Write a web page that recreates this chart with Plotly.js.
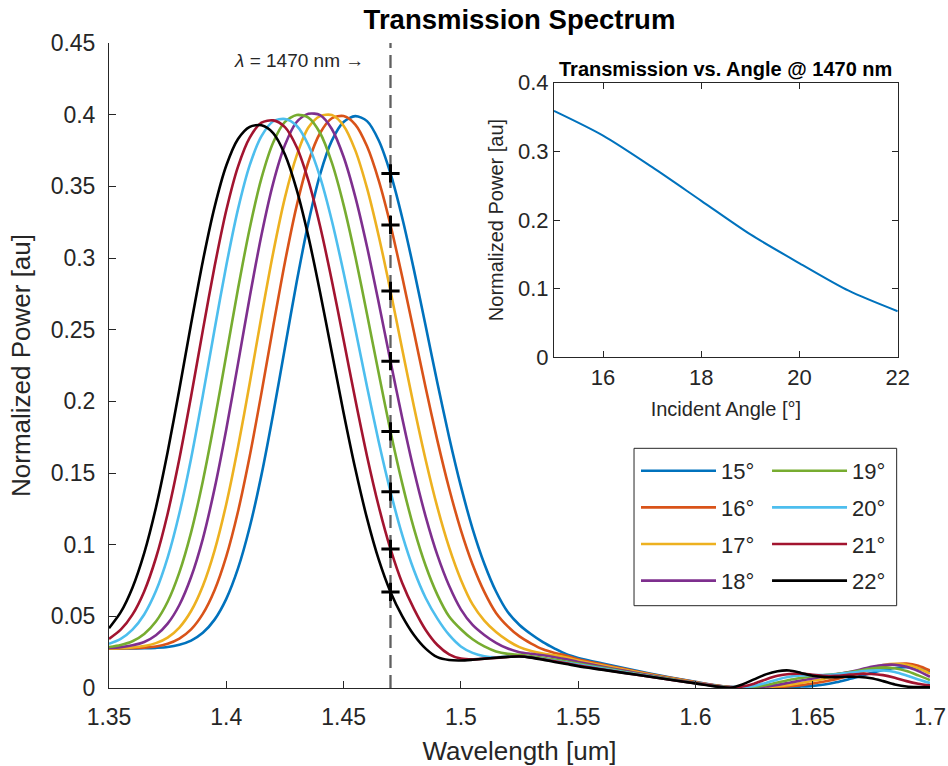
<!DOCTYPE html>
<html>
<head>
<meta charset="utf-8">
<script src="https://cdn.plot.ly/plotly-3.0.1.min.js"></script>
<style>html,body{margin:0;padding:0;background:#fff}#chart{width:948px;height:766px}</style>
</head>
<body>
<div id="chart"></div>
<script>
// ---- data ----
const wavelength = [1.350,1.355,1.360,1.365,1.370,1.375,1.380,1.385,1.390,1.395,1.400,1.405,1.410,1.415,1.420,1.425,1.430,1.435,1.440,1.445,1.450,1.455,1.460,1.465,1.470,1.475,1.480,1.485,1.490,1.495,1.500,1.505,1.510,1.515,1.520,1.525,1.530,1.535,1.540,1.545,1.550,1.560,1.570,1.580,1.590,1.600,1.610,1.615,1.620,1.625,1.630,1.635,1.640,1.645,1.650,1.655,1.660,1.665,1.670,1.675,1.680,1.685,1.690,1.695,1.700];

const p15 = [0.0275,0.0275,0.0276,0.0277,0.0280,0.0286,0.0302,0.0331,0.0385,0.0477,0.0622,0.0834,0.1123,0.1487,0.1914,0.2374,0.2832,0.3247,0.3584,0.3819,0.3949,0.3990,0.3955,0.3820,0.3590,0.3281,0.2917,0.2525,0.2128,0.1750,0.1408,0.1111,0.0867,0.0673,0.0530,0.0440,0.0375,0.0320,0.0275,0.0235,0.0210,0.0172,0.0137,0.0103,0.0072,0.0043,0.0016,0.0008,0.0005,0.0005,0.0005,0.0005,0.0006,0.0010,0.0015,0.0025,0.0040,0.0060,0.0082,0.0105,0.0125,0.0140,0.0145,0.0135,0.0115];
const p16 = [0.0275,0.0276,0.0278,0.0282,0.0290,0.0309,0.0345,0.0409,0.0517,0.0682,0.0918,0.1231,0.1618,0.2059,0.2523,0.2971,0.3364,0.3670,0.3872,0.3975,0.3990,0.3931,0.3779,0.3540,0.3230,0.2869,0.2483,0.2095,0.1726,0.1392,0.1102,0.0862,0.0671,0.0524,0.0430,0.0360,0.0310,0.0270,0.0245,0.0225,0.0200,0.0165,0.0132,0.0099,0.0069,0.0041,0.0015,0.0006,0.0002,0.0002,0.0003,0.0006,0.0012,0.0020,0.0032,0.0046,0.0062,0.0082,0.0105,0.0130,0.0152,0.0166,0.0170,0.0155,0.0122];
const p17 = [0.0276,0.0278,0.0283,0.0293,0.0313,0.0352,0.0422,0.0537,0.0712,0.0959,0.1284,0.1681,0.2128,0.2594,0.3037,0.3421,0.3714,0.3910,0.3990,0.3997,0.3923,0.3751,0.3487,0.3152,0.2770,0.2363,0.1964,0.1591,0.1260,0.0981,0.0756,0.0583,0.0470,0.0390,0.0330,0.0285,0.0258,0.0240,0.0228,0.0212,0.0192,0.0158,0.0127,0.0095,0.0066,0.0039,0.0014,0.0005,0.0002,0.0003,0.0006,0.0012,0.0022,0.0035,0.0050,0.0065,0.0082,0.0098,0.0118,0.0142,0.0160,0.0168,0.0162,0.0138,0.0100];
const p18 = [0.0279,0.0285,0.0298,0.0321,0.0368,0.0449,0.0579,0.0774,0.1041,0.1391,0.1806,0.2263,0.2728,0.3161,0.3523,0.3788,0.3949,0.4006,0.3997,0.3900,0.3706,0.3426,0.3078,0.2686,0.2280,0.1884,0.1517,0.1196,0.0927,0.0713,0.0549,0.0440,0.0370,0.0315,0.0275,0.0250,0.0238,0.0228,0.0215,0.0200,0.0182,0.0150,0.0120,0.0090,0.0062,0.0037,0.0013,0.0005,0.0002,0.0004,0.0010,0.0022,0.0037,0.0052,0.0067,0.0080,0.0095,0.0110,0.0128,0.0148,0.0160,0.0162,0.0148,0.0118,0.0078];
const p19 = [0.0286,0.0300,0.0326,0.0377,0.0464,0.0602,0.0807,0.1086,0.1443,0.1864,0.2323,0.2785,0.3208,0.3557,0.3806,0.3950,0.3998,0.3980,0.3872,0.3665,0.3371,0.3010,0.2608,0.2194,0.1790,0.1428,0.1112,0.0853,0.0650,0.0499,0.0410,0.0340,0.0290,0.0255,0.0238,0.0232,0.0222,0.0210,0.0198,0.0185,0.0170,0.0143,0.0114,0.0086,0.0060,0.0035,0.0012,0.0004,0.0003,0.0008,0.0020,0.0038,0.0056,0.0070,0.0082,0.0090,0.0098,0.0108,0.0122,0.0135,0.0142,0.0138,0.0118,0.0088,0.0055];
const p20 = [0.0308,0.0343,0.0407,0.0513,0.0676,0.0909,0.1219,0.1602,0.2040,0.2501,0.2948,0.3341,0.3648,0.3850,0.3954,0.3970,0.3923,0.3788,0.3564,0.3260,0.2899,0.2505,0.2102,0.1717,0.1370,0.1068,0.0821,0.0628,0.0484,0.0370,0.0290,0.0245,0.0222,0.0215,0.0218,0.0222,0.0215,0.0203,0.0190,0.0177,0.0163,0.0137,0.0110,0.0083,0.0058,0.0034,0.0011,0.0003,0.0005,0.0015,0.0035,0.0060,0.0078,0.0088,0.0090,0.0090,0.0095,0.0105,0.0115,0.0122,0.0122,0.0112,0.0088,0.0060,0.0035];
const p21 = [0.0343,0.0407,0.0512,0.0674,0.0907,0.1216,0.1599,0.2035,0.2495,0.2940,0.3333,0.3638,0.3840,0.3944,0.3960,0.3913,0.3774,0.3539,0.3221,0.2842,0.2429,0.2012,0.1617,0.1266,0.0970,0.0732,0.0552,0.0405,0.0300,0.0235,0.0205,0.0200,0.0205,0.0210,0.0216,0.0221,0.0213,0.0200,0.0186,0.0172,0.0157,0.0131,0.0105,0.0080,0.0056,0.0033,0.0010,0.0003,0.0010,0.0030,0.0060,0.0085,0.0098,0.0100,0.0092,0.0085,0.0085,0.0092,0.0098,0.0098,0.0090,0.0072,0.0048,0.0030,0.0018];
const p22 = [0.0417,0.0529,0.0700,0.0941,0.1258,0.1646,0.2084,0.2541,0.2978,0.3355,0.3645,0.3830,0.3915,0.3926,0.3872,0.3722,0.3477,0.3149,0.2760,0.2341,0.1921,0.1529,0.1183,0.0895,0.0670,0.0502,0.0370,0.0275,0.0215,0.0195,0.0192,0.0197,0.0204,0.0211,0.0217,0.0220,0.0212,0.0198,0.0182,0.0168,0.0152,0.0128,0.0104,0.0080,0.0056,0.0032,0.0008,0.0002,0.0025,0.0060,0.0095,0.0117,0.0122,0.0105,0.0085,0.0076,0.0076,0.0078,0.0077,0.0068,0.0048,0.0025,0.0010,0.0006,0.0005];

const angles = [15, 16, 17, 18, 19, 20, 21, 22];
const angleLabels = ['15°', '16°', '17°', '18°', '19°', '20°', '21°', '22°'];
const powerAt1470 = [0.359, 0.323, 0.277, 0.228, 0.179, 0.137, 0.097, 0.067];
const lambda0 = 1.47;

const xTickVals = [1.35, 1.4, 1.45, 1.5, 1.55, 1.6, 1.65, 1.7];
const xTickText = ['1.35', '1.4', '1.45', '1.5', '1.55', '1.6', '1.65', '1.7'];
const yTickVals = [0, 0.05, 0.1, 0.15, 0.2, 0.25, 0.3, 0.35, 0.4, 0.45];
const yTickText = ['0', '0.05', '0.1', '0.15', '0.2', '0.25', '0.3', '0.35', '0.4', '0.45'];
const x2TickVals = [16, 18, 20, 22];
const y2TickVals = [0, 0.1, 0.2, 0.3, 0.4];
const y2TickText = ['0', '0.1', '0.2', '0.3', '0.4'];

// ---- styling ----
const series = [p15, p16, p17, p18, p19, p20, p21, p22];
const colors = ['#0072BD', '#D95319', '#EDB120', '#7E2F8E', '#77AC30', '#4DBEEE', '#A2142F', '#000000'];
const FONT = 'Liberation Sans, Arial, Helvetica, sans-serif';
const INK = '#262626';

const traces = [];
series.forEach((s, i) => {
  traces.push({
    x: wavelength, y: s, type: 'scatter', mode: 'lines',
    name: angleLabels[i], legendgroup: 'g' + i,
    legend: i < 4 ? 'legend' : 'legend2',
    line: {color: colors[i], width: 2.6, shape: 'spline', smoothing: 0.8},
    hoverinfo: 'skip'
  });
});
traces.push({
  x: [lambda0, lambda0], y: [0, yTickVals[yTickVals.length - 1]],
  type: 'scatter', mode: 'lines', showlegend: false,
  line: {color: '#5f5f5f', width: 2.3, dash: '13px,7px'}, hoverinfo: 'skip'
});
traces.push({
  x: angles.map(() => lambda0), y: powerAt1470,
  type: 'scatter', mode: 'markers', showlegend: false,
  marker: {symbol: 'cross-thin', size: 13, color: '#000', line: {color: '#000', width: 3}},
  hoverinfo: 'skip'
});
traces.push({
  x: angles, y: powerAt1470, xaxis: 'x2', yaxis: 'y2',
  type: 'scatter', mode: 'lines', showlegend: false,
  line: {color: '#0072BD', width: 2, shape: 'spline', smoothing: 0.8}, hoverinfo: 'skip'
});

const axisCommon = {
  showline: true, linecolor: INK, linewidth: 1, ticks: 'inside', tickcolor: INK,
  tickwidth: 1, showgrid: false, zeroline: false, fixedrange: true,
  tickfont: {family: FONT, size: 23, color: INK}
};

const legendCommon = {
  orientation: 'v', yanchor: 'top', y: 0.369, xanchor: 'left',
  bgcolor: 'rgba(255,255,255,0)', borderwidth: 0,
  font: {family: FONT, size: 22, color: INK},
  itemwidth: 75, traceorder: 'grouped', tracegroupgap: 5
};

const layout = {
  width: 948, height: 766,
  margin: {l: 109, r: 18, t: 43, b: 78},
  paper_bgcolor: '#ffffff', plot_bgcolor: '#ffffff',
  font: {family: FONT, color: INK},
  title: {text: '<b>Transmission Spectrum</b>', font: {family: FONT, size: 27.5, color: '#000'},
          x: 0.5, xref: 'paper', y: 0.975, yref: 'container', yanchor: 'middle'},
  showlegend: true,
  legend: Object.assign({}, legendCommon, {x: 0.6419}),
  legend2: Object.assign({}, legendCommon, {x: 0.8015}),
  xaxis: Object.assign({}, axisCommon, {
    domain: [0, 1], range: [1.35, 1.7], tickmode: 'array', tickvals: xTickVals, ticktext: xTickText,
    ticklen: 7, mirror: false, ticklabelstandoff: 8,
    title: {text: 'Wavelength [um]', font: {family: FONT, size: 26, color: INK}, standoff: 14}
  }),
  yaxis: Object.assign({}, axisCommon, {
    domain: [0, 1], range: [0, 0.45], tickmode: 'array', tickvals: yTickVals, ticktext: yTickText,
    ticklen: 7, mirror: false, ticklabelstandoff: 8,
    title: {text: 'Normalized Power [au]', font: {family: FONT, size: 26, color: INK}, standoff: 12}
  }),
  xaxis2: Object.assign({}, axisCommon, {
    domain: [0.542, 0.9607], anchor: 'y2', range: [15, 22], tickmode: 'array', tickvals: x2TickVals,
    ticklen: 6, mirror: 'ticks', tickfont: {family: FONT, size: 22, color: INK},
    title: {text: 'Incident Angle [°]', font: {family: FONT, size: 20, color: INK}, standoff: 13}
  }),
  yaxis2: Object.assign({}, axisCommon, {
    domain: [0.5127, 0.9384], anchor: 'x2', range: [0, 0.4], tickmode: 'array', tickvals: y2TickVals, ticktext: y2TickText,
    ticklen: 6, mirror: 'ticks', tickfont: {family: FONT, size: 22, color: INK},
    title: {text: 'Normalized Power [au]', font: {family: FONT, size: 20, color: INK}, standoff: 8}
  }),
  shapes: [
    {type: 'rect', xref: 'x2 domain', yref: 'y2 domain', x0: 0, x1: 1, y0: 0, y1: 1,
     fillcolor: '#ffffff', line: {width: 0}, layer: 'below'},
    {type: 'rect', xref: 'paper', yref: 'paper', x0: 0.6395, x1: 0.9594, y0: 0.1276, y1: 0.3716,
     fillcolor: '#ffffff', line: {color: INK, width: 1}, layer: 'below'}
  ],
  annotations: [
    {text: '<i>λ</i> = 1470 nm →', x: lambda0, xref: 'x', xanchor: 'right', xshift: -24,
     y: 0.438, yref: 'y', yanchor: 'middle', showarrow: false,
     font: {family: FONT, size: 19, color: INK}},
    {text: '<b>Transmission vs. Angle @ 1470 nm</b>', x: 0.7514, xref: 'paper', xanchor: 'center',
     y: 0.9597, yref: 'paper', yanchor: 'middle', showarrow: false,
     font: {family: FONT, size: 20, color: '#000'}}
  ]
};

Plotly.newPlot('chart', traces, layout, {displayModeBar: false, staticPlot: true});
</script>
</body>
</html>
